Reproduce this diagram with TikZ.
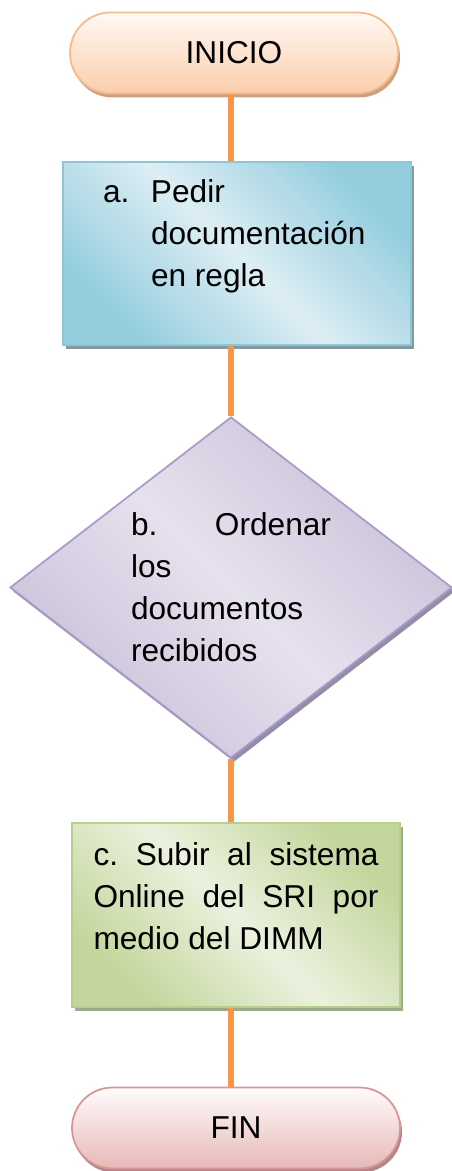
\documentclass[tikz,border=0pt]{standalone}
\usepackage{fontspec}
\setmainfont{Liberation Sans}
\usetikzlibrary{shapes.misc, shapes.geometric, shadows}

\definecolor{linkorange}{HTML}{F79646}
\definecolor{iniTop}{HTML}{FFF9F4}
\definecolor{iniBot}{HTML}{FBCDAA}
\definecolor{iniLine}{HTML}{F6B98A}
\definecolor{iniShadow}{HTML}{C9A184}
\definecolor{blueDark}{HTML}{93CDDD}
\definecolor{blueLight}{HTML}{DDEEF4}
\definecolor{blueLine}{HTML}{8CC6D7}
\definecolor{blueShadow}{HTML}{8599A2}
\definecolor{lilacDark}{HTML}{CBC0D9}
\definecolor{lilacLight}{HTML}{E6E1EE}
\definecolor{lilacLine}{HTML}{A99BC9}
\definecolor{lilacShadow}{HTML}{958CA8}
\definecolor{greenDark}{HTML}{C3D69B}
\definecolor{greenLight}{HTML}{EBF1DE}
\definecolor{greenLine}{HTML}{B7CE8C}
\definecolor{greenShadow}{HTML}{9DAA8C}
\definecolor{finTop}{HTML}{FFFBFB}
\definecolor{finBot}{HTML}{E6B9B8}
\definecolor{finLine}{HTML}{D99694}
\definecolor{finShadow}{HTML}{B58686}

\begin{document}
\begin{tikzpicture}
  [
    every node/.style = {font = \fontsize{18pt}{23.9pt}\selectfont, inner sep = 0pt, line width = 1pt},
    terminal/.style = {draw, rounded rectangle, minimum width = 6.56cm, minimum height = 1.62cm},
    process/.style = {draw, rectangle},
    decision/.style = {draw, diamond, aspect = 1.3, minimum width = 8.84cm, minimum height = 6.82cm, align = left},
    link/.style = {draw = linkorange, line width = 3.6pt}
  ]
    \useasboundingbox (0,0) rectangle (9.04,-23.42);
    \node (ini) [terminal, draw = iniLine, top color = iniTop, bottom color = iniBot,
      drop shadow = {shadow xshift = 0.04cm, shadow yshift = -0.08cm, fill = iniShadow, opacity = 1}]
      at (4.68,-1.06) {INICIO};
    \node (a) [process, draw = blueLine, minimum width = 6.96cm, minimum height = 3.66cm,
      top color = blueDark, bottom color = blueDark, middle color = blueLight, shading angle = -45,
      drop shadow = {shadow xshift = 0.06cm, shadow yshift = -0.08cm, fill = blueShadow, opacity = 1}]
      at (4.74,-5.07)
      {\parbox[c][3.66cm][t]{5.36cm}{\raggedright\noindent\rule{0pt}{0.82cm}\makebox[0.96cm][l]{a.}Pedir\\
        \hspace*{0.96cm}documentación\\
        \hspace*{0.96cm}en regla}};
    \node (dia) [decision, draw = lilacLine,
      top color = lilacDark, bottom color = lilacDark, middle color = lilacLight, shading angle = -45,
      drop shadow = {shadow xshift = 0.06cm, shadow yshift = -0.08cm, fill = lilacShadow, opacity = 1}]
      at (4.62,-11.75) {\makebox[4cm][s]{b.\ Ordenar}\\los\\documentos\\recibidos};
    \node (c) [process, draw = greenLine, minimum width = 6.56cm, minimum height = 3.68cm,
      top color = greenDark, bottom color = greenDark, middle color = greenLight, shading angle = -45,
      drop shadow = {shadow xshift = 0.06cm, shadow yshift = -0.08cm, fill = greenShadow, opacity = 1}]
      at (4.72,-18.30)
      {\parbox[c][3.68cm][t]{5.7cm}{\noindent\rule{0pt}{0.84cm}\makebox[5.7cm][s]{c.\ Subir al sistema}\\
        \makebox[5.7cm][s]{Online del SRI por}\\
        medio del DIMM}};
    \node (fin) [terminal, draw = finLine, top color = finTop, bottom color = finBot,
      drop shadow = {shadow xshift = 0.04cm, shadow yshift = -0.08cm, fill = finShadow, opacity = 1}]
      at (4.72,-22.56) {FIN};
    \draw [link] (dia.north |- ini.south) -- (dia.north |- a.north);
    \draw [link] (dia.north |- a.south) -- (dia.north);
    \draw [link] (dia.south) -- (dia.south |- c.north);
    \draw [link] (dia.south |- c.south) -- (dia.south |- fin.north);
\end{tikzpicture}
\end{document}
